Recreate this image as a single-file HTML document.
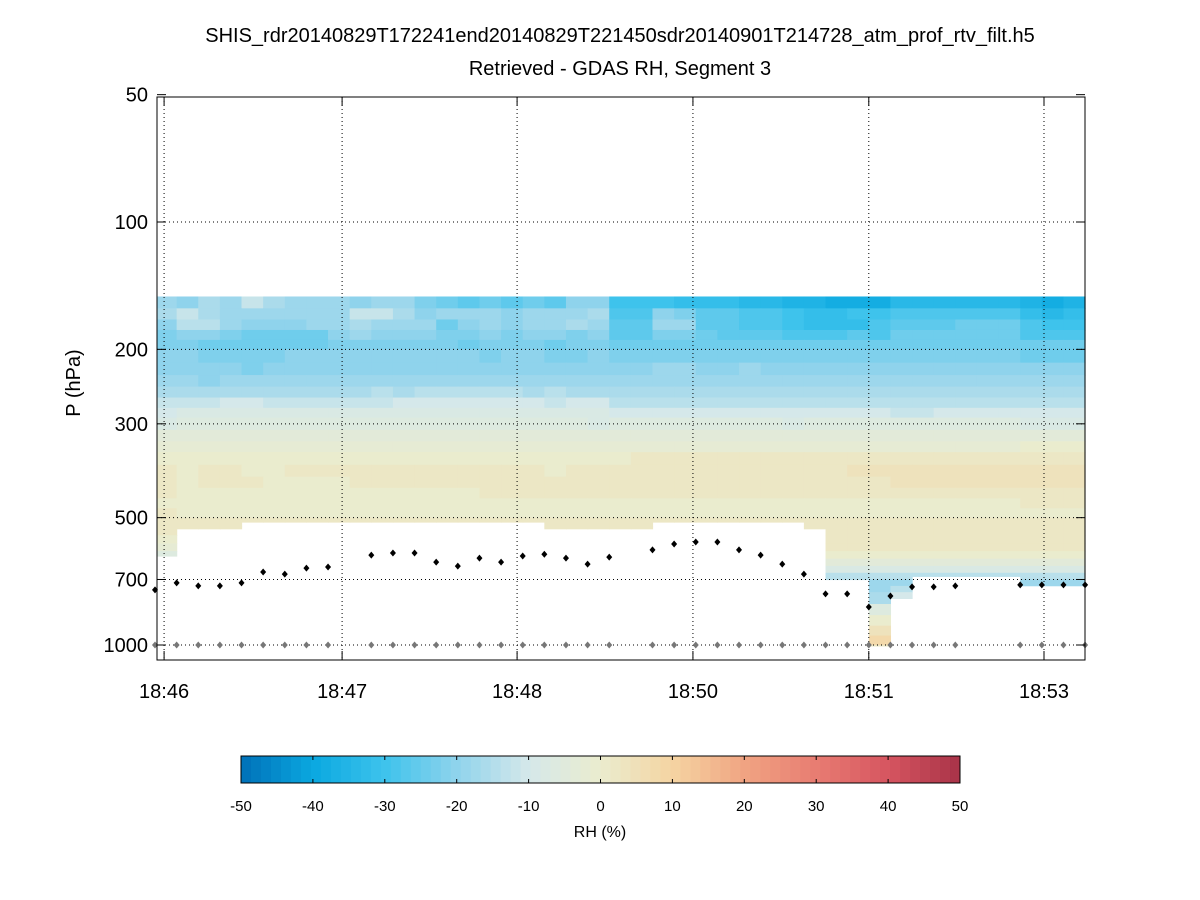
<!DOCTYPE html>
<html><head><meta charset="utf-8">
<style>
html,body{margin:0;padding:0;background:#fff;}
svg{display:block;font-family:"Liberation Sans",sans-serif;}
</style></head>
<body>
<svg id="chart" width="1200" height="900" viewBox="0 0 1200 900" xmlns="http://www.w3.org/2000/svg">
<rect x="0" y="0" width="1200" height="900" fill="#fff"/>
<text x="620" y="42" font-size="20" text-anchor="middle">SHIS_rdr20140829T172241end20140829T221450sdr20140901T214728_atm_prof_rtv_filt.h5</text>
<text x="620" y="75" font-size="20" text-anchor="middle">Retrieved - GDAS RH, Segment 3</text>
<g id="cells"></g>
<g id="grid"></g>
<g id="dots"></g>
<rect x="157" y="97" width="928" height="563" fill="none" stroke="#000" stroke-width="1"/>
<g id="ticks"></g>
<text x="0" y="0" font-size="20" text-anchor="middle" transform="translate(80,383) rotate(-90)">P (hPa)</text>
<g id="cbar"></g>
<text x="600" y="837" font-size="16" text-anchor="middle">RH (%)</text>
</svg>
<script>
// ---- data ----
const levels = [150,160,170,180,190,200,215,230,245,260,275,290,310,330,350,375,400,425,450,475,500,525,550,575,600,625,650,675,700,725,750,800,850,900,950,1000,1030];
const cellBottom = [616,531,531,531,512,512,512,512,512,512,512,512,512,512,512,512,512,512,531,531,531,531,531,512,512,512,512,512,512,512,531,700,700,1005,776,688,688,688,688,688,724,724,724];
// value code: A=-40, each letter +2 (U=0, Z=10)
const rows = [
"LKMLOMLLLKLLJIHIHIHKK"+"FFFEEEDD"+"CCBBB"+"DDDDDD"+"CBC",
"MOMLLLLLLOOMKLLLKLLLM"+"GGKJHHGG"+"FEEFF"+"GGGGGG"+"EDE",
"KNNLKKKLLMLLLIKLKLLML"+"HHLLHHGG"+"FEEEG"+"HHHIII"+"GFF",
"JKKJIIIIKLKKKJJKJKKJK"+"HHJJIHHH"+"GGGHG"+"IIIIII"+"GGG",
"JJIIIIIIJJJJJJIJJJIJJ"+"IIIIIIII"+"IIIII"+"IIIIII"+"III",
"KKJJJJKKKKKKKKKJKKJJK"+"JJJJJJJJ"+"JJJJJ"+"JJJJJJ"+"III",
"KKKKJKKKKKKKKKKKKKKKK"+"KKLLKKLK"+"KKKKK"+"KKKKKK"+"KKK",
"LLKLLLLLLLLLLLLLLLLLL"+"LLLLLLLL"+"LLLLL"+"LLLLLL"+"LLL",
"MMMMMMMMMMNMNNNNNMNMM"+"MMMMMMMM"+"MMMMM"+"MMMMMM"+"MMM",
"OOOPPOOOOOOPPPPPPPOPP"+"NNNNNNNN"+"NNNNN"+"NNNNNN"+"NNN",
"PQQQQQQQQQQQQQQQQQQQQ"+"PPPPPPPP"+"PPPPP"+"OOPPPP"+"PPP",
"QRRRRRRRRRRRRRRRRRRRQ"+"RRRRRRRR"+"QRRRR"+"RRRRRR"+"QQQ",
"SSSSSSSSSSSSSSSSSSSSS"+"SSSSSSSS"+"SSSSS"+"SSSSSS"+"SSS",
"TTTTTTTTTTTTTTTTTTTTT"+"TTTTTTTT"+"TTTTT"+"TTTTTT"+"UUU",
"UUUUUUUUUUUUUUUUUUUUU"+"UVVVVVVV"+"VVVVV"+"VVVVVV"+"VVV",
"VUVVUUVVVVVVVVVVVVUVV"+"VVVVVVVV"+"VVVWW"+"WWWWWW"+"WWW",
"VUVVVUUUUVVVVVVVVVVVV"+"VVVVVVVV"+"VVVVV"+"WWWWWW"+"WWW",
"VUUUUUUUUUUUUUUVVVVVV"+"VVVVVVVV"+"VVVVV"+"VVVVVV"+"VVV",
"UUUUUUUUUUUUUUUUUUUUU"+"UUUUUUUU"+"UUUUU"+"UUUUUU"+"VVV",
"VUUUUUUUUUUUUUUUUUUUU"+"UUUUUUUU"+"UUUUU"+"UUUUUU"+"UUU",
"VVVVVVVVVVVVVVVVVVVVV"+"VVVVVVVV"+"VVVVV"+"VVVVVV"+"VVV",
"VVVVVVVVVVVVVVVVVVVVV"+"VVVVVVVV"+"VVVVV"+"VVVVVV"+"VVV",
"UVVVVVVVVVVVVVVVVVVVV"+"VVVVVVVV"+"VVVVV"+"VVVVVV"+"VVV",
"TVVVVVVVVVVVVVVVVVVVV"+"VVVVVVVV"+"VVVVV"+"VVVVVV"+"VVV",
"RUUUUUUUUUUUUUUUUUUUU"+"UUUUUUUU"+"UUUUU"+"UUUUUU"+"UUU",
"S","Q","N","L",
"NNNNNNNNNNNNNNNNNNNNNNNNNNNNNNNNNLNNNNNNNNN",
"PPPPPPPPPPPPPPPPPPPPPPPPPPPPPPPPPMPPPPPPPPP",
"R","U","W","Y","V"
];
const surfP = [741,713,725,725,713,672,680,658,654,null,613,606,606,637,651,623,637,616,610,623,644,620,null,596,577,571,571,596,613,644,680,757,757,813,766,729,729,725,null,null,721,721,721,721];
const xTickIdx = [0.42,8.65,16.74,24.87,33.0,41.1];
const xTickLabels = ["18:46","18:47","18:48","18:50","18:51","18:53"];
const yTicks = [50,100,200,300,500,700,1000];
const cbTicks = [-50,-40,-30,-20,-10,0,10,20,30,40,50];

// ---- scales ----
const L=157,R=1085,T=97,B=660;
const xs = i => 155 + i*21.63;
const ys = p => 222 + 423*Math.log10(p/100);
const stops = [[-50,[0,112,184]],[-40,[10,168,224]],[-30,[62,195,236]],[-20,[143,211,236]],[-10,[213,232,234]],[0,[234,236,206]],[10,[245,212,162]],[20,[240,164,130]],[30,[232,124,114]],[40,[214,85,96]],[50,[168,51,72]]];
function color(v){
  v=Math.max(-50,Math.min(50,v));
  for(let k=0;k<stops.length-1;k++){
    const [a,ca]=stops[k],[b,cb]=stops[k+1];
    if(v<=b){const t=(v-a)/(b-a);return 'rgb('+ca.map((c,j)=>Math.round(c+(cb[j]-c)*t)).join(',')+')';}
  }
}
const decode = ch => (ch.charCodeAt(0)-85)*2;
const NS='http://www.w3.org/2000/svg';
function mk(tag,attrs,parent){const e=document.createElementNS(NS,tag);for(const k in attrs)e.setAttribute(k,attrs[k]);parent.appendChild(e);return e;}

// ---- heatmap ----
const gC=document.getElementById('cells');
for(let r=0;r<rows.length;r++){
  const s=rows[r];
  for(let c=0;c<cellBottom.length;c++){
    const top=levels[r];
    if(top>=cellBottom[c]) continue;
    const bot=Math.min(levels[r+1],cellBottom[c]);
    const ch = s.length===1 ? s : s[c];
    let x0=Math.max(L,xs(c)), x1=Math.min(R,xs(c+1));
    if(x1<=x0) continue;
    const y0=ys(top), y1=Math.min(B,ys(bot));
    const e=mk('rect',{x:x0,y:y0,width:x1-x0+0.6,height:y1-y0+0.6,fill:color(decode(ch))},gC);
    
    
  }
}
// ---- grid ----
const gG=document.getElementById('grid');
yTicks.forEach(p=>{
  const y=ys(p);
  if(p>50){const l=mk('line',{x1:L,x2:R,y1:y,y2:y,stroke:'#000','stroke-width':1,'stroke-dasharray':'1,3'},gG);
  
  }
});
xTickIdx.forEach(i=>{
  const x=xs(i);
  const l=mk('line',{x1:x,x2:x,y1:T,y2:B,stroke:'#000','stroke-width':1,'stroke-dasharray':'1,3'},gG);
  
  
});
// ---- dots ----
const gD=document.getElementById('dots');
function diamond(x,y){return `${x},${y-3.5} ${x+3},${y} ${x},${y+3.5} ${x-3},${y}`;}
surfP.forEach((p,i)=>{
  if(p===null) return;
  const x=xs(i);
  const g=mk('polygon',{points:diamond(x,ys(1000)),fill:'#777'},gD);
  
  
  const d=mk('polygon',{points:diamond(x,ys(p)),fill:'#000'},gD);
  
  
});
// ---- ticks & labels ----
const gT=document.getElementById('ticks');
yTicks.forEach(p=>{
  const y=ys(p);
  mk('line',{x1:L,x2:L+9,y1:y,y2:y,stroke:'#000'},gT);
  mk('line',{x1:R-9,x2:R,y1:y,y2:y,stroke:'#000'},gT);
  const t=mk('text',{x:148,y:y+7,'font-size':20,'text-anchor':'end'},gT);
  t.textContent=p;
  
  
});
xTickIdx.forEach((i,k)=>{
  const x=xs(i);
  mk('line',{x1:x,x2:x,y1:B-9,y2:B,stroke:'#000'},gT);
  mk('line',{x1:x,x2:x,y1:T,y2:T+9,stroke:'#000'},gT);
  const t=mk('text',{x:x,y:698,'font-size':20,'text-anchor':'middle'},gT);
  t.textContent=xTickLabels[k];
  
  
});
// ---- colorbar ----
const gB=document.getElementById('cbar');
const cbL=241,cbR=960,cbT=756,cbB=783,nb=72;
for(let k=0;k<nb;k++){
  const v=-50+(k+0.5)*100/nb;
  const w=(cbR-cbL)/nb;
  const r=mk('rect',{x:cbL+k*w,y:cbT,width:w+0.5,height:cbB-cbT,fill:color(v)},gB);
  
  
}
mk('rect',{x:cbL,y:cbT,width:cbR-cbL,height:cbB-cbT,fill:'none',stroke:'#000'},gB);
cbTicks.forEach(v=>{
  const x=cbL+(v+50)/100*(cbR-cbL);
  mk('line',{x1:x,x2:x,y1:cbT,y2:cbT+4,stroke:'#000'},gB);
  mk('line',{x1:x,x2:x,y1:cbB-4,y2:cbB,stroke:'#000'},gB);
  const t=mk('text',{x:x,y:811,'font-size':15,'text-anchor':'middle'},gB);
  t.textContent=v;
  
  
});
</script>
</body></html>
